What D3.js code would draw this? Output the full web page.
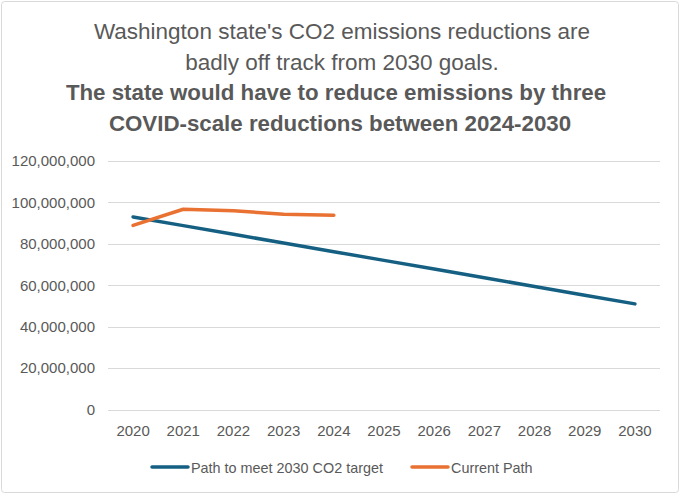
<!DOCTYPE html>
<html>
<head>
<meta charset="utf-8">
<script src="https://cdn.jsdelivr.net/npm/d3@7"></script>
<style>
html,body{margin:0;padding:0;background:#fff;}
svg{display:block;}
</style>
</head>
<body>
<svg id="chart" width="680" height="494"></svg>
<script>
const titleLines = ["Washington state's CO2 emissions reductions are", "badly off track from 2030 goals."];
const subtitleLines = ["The state would have to reduce emissions by three", "COVID-scale reductions between 2024-2030"];
const years = ["2020","2021","2022","2023","2024","2025","2026","2027","2028","2029","2030"];
const targetPath = [93.0e6, 88.8e6, 84.6e6, 80.4e6, 76.2e6, 72.0e6, 67.8e6, 63.6e6, 59.4e6, 55.2e6, 51.0e6];
const currentYears = ["2020","2021","2022","2023","2024"];
const currentPath = [88.9e6, 96.7e6, 96.0e6, 94.3e6, 93.8e6];
const yTicks = [0, 20e6, 40e6, 60e6, 80e6, 100e6, 120e6];
const seriesNames = ["Path to meet 2030 CO2 target", "Current Path"];

const svg = d3.select("#chart");
const W = 680, H = 494;
const textColor = "#595959";
const colors = ["#156082", "#E97132"];

svg.append("rect").attr("x",1.5).attr("y",1.5).attr("width",W-3).attr("height",H-3)
  .attr("rx",3).attr("fill","#fff").attr("stroke","#d9d9d9").attr("stroke-width",1);

const x = d3.scaleBand().domain(years).range([108, 660]);
const y = d3.scaleLinear().domain([0, 120e6]).range([409.5, 161]);

// titles
const tg = svg.append("g").attr("font-family","'Liberation Sans',Arial,sans-serif").attr("fill",textColor).attr("text-anchor","middle");
titleLines.forEach((t,i)=>{
  tg.append("text").attr("x",342).attr("y",38.5 + i*31.5).attr("font-size",22.5).text(t);
});
subtitleLines.forEach((t,i)=>{
  tg.append("text").attr("x",i===0?336:340).attr("y",100 + i*30.5).attr("font-size",22.3).attr("font-weight","bold").text(t);
});

// gridlines
const grid = svg.append("g");
grid.selectAll("line").data(yTicks).join("line")
  .attr("x1",108).attr("x2",660)
  .attr("y1",d=>Math.round(y(d))+0.5).attr("y2",d=>Math.round(y(d))+0.5)
  .attr("stroke","#d9d9d9").attr("stroke-width",1);

// y axis
const fmt = d3.format(",");
const yAxis = d3.axisLeft(y).tickValues(yTicks).tickFormat(d=>fmt(d)).tickSize(0).tickPadding(0);
const yg = svg.append("g").attr("transform","translate(95,0)").call(yAxis);
yg.select(".domain").remove();
yg.selectAll("text").attr("font-family","'Liberation Sans',Arial,sans-serif").attr("font-size",15).attr("fill",textColor);

// x axis
const xAxis = d3.axisBottom(x).tickSize(0).tickPadding(0);
const xg = svg.append("g").attr("transform","translate(0,425)").call(xAxis);
xg.select(".domain").remove();
xg.selectAll("text").attr("font-family","'Liberation Sans',Arial,sans-serif").attr("font-size",15).attr("fill",textColor);

// lines
const line = d3.line().x(d=>x(d[0])+x.bandwidth()/2).y(d=>y(d[1]));
svg.append("path").datum(years.map((yr,i)=>[yr,targetPath[i]]))
  .attr("d",line).attr("fill","none").attr("stroke",colors[0]).attr("stroke-width",3.5)
  .attr("stroke-linecap","round").attr("stroke-linejoin","round");
svg.append("path").datum(currentYears.map((yr,i)=>[yr,currentPath[i]]))
  .attr("d",line).attr("fill","none").attr("stroke",colors[1]).attr("stroke-width",3.5)
  .attr("stroke-linecap","round").attr("stroke-linejoin","round");

// legend
const lg = svg.append("g").attr("font-family","'Liberation Sans',Arial,sans-serif").attr("font-size",14.4).attr("fill",textColor);
const legendPos = [151, 411];
seriesNames.forEach((n,i)=>{
  lg.append("line").attr("x1",legendPos[i]+1).attr("x2",legendPos[i]+37).attr("y1",467).attr("y2",467)
    .attr("stroke",colors[i]).attr("stroke-width",3.5).attr("stroke-linecap","round");
  lg.append("text").attr("x",legendPos[i]+40).attr("y",472.5).text(n);
});
</script>
</body>
</html>
